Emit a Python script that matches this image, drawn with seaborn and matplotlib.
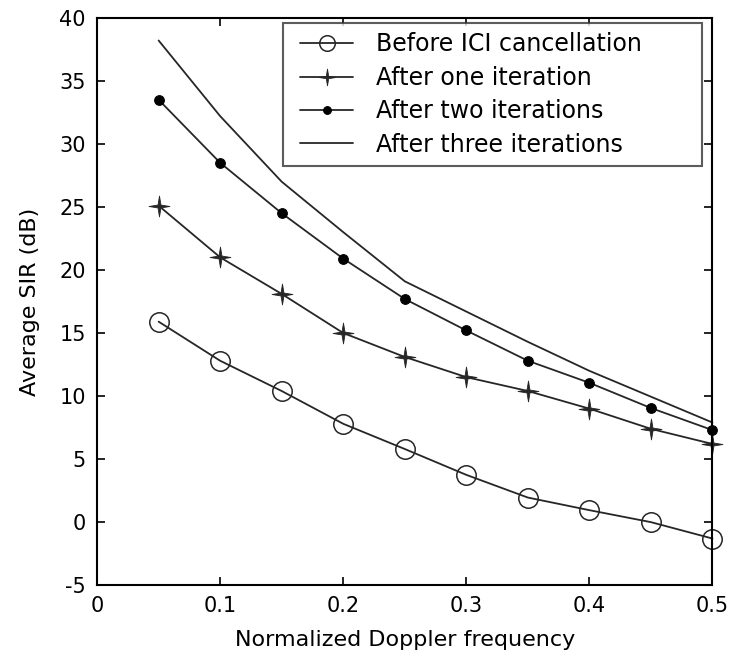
import matplotlib
matplotlib.use("Agg")
import matplotlib.pyplot as plt
from matplotlib.path import Path
from matplotlib.lines import Line2D
from matplotlib.legend_handler import HandlerLine2D
import seaborn as sns
import pandas as pd
import numpy as np

doppler = [0.05, 0.10, 0.15, 0.20, 0.25, 0.30, 0.35, 0.40, 0.45, 0.50]
before_ici = [15.9, 12.8, 10.4, 7.8, 5.8, 3.75, 1.95, 0.95, 0.0, -1.3]
after_one = [25.1, 21.0, 18.1, 15.0, 13.1, 11.5, 10.4, 9.0, 7.4, 6.2]
after_two = [33.5, 28.5, 24.5, 20.9, 17.7, 15.2, 12.8, 11.05, 9.05, 7.3]
after_three = [38.2, 32.2, 27.0, 23.0, 19.1, 16.7, 14.3, 12.0, 9.95, 7.9]

labels = ["Before ICI cancellation", "After one iteration",
          "After two iterations", "After three iterations"]
xticks = [0, 0.1, 0.2, 0.3, 0.4, 0.5]
xticklabels = ["0", "0.1", "0.2", "0.3", "0.4", "0.5"]
yticks = [-5, 0, 5, 10, 15, 20, 25, 30, 35, 40]

sns.set_theme(style="white")
plt.rcParams["font.family"] = ["DejaVu Sans"]
plt.rcParams["axes.unicode_minus"] = False
plt.rcParams["text.color"] = "black"
plt.rcParams["axes.labelcolor"] = "black"

# thin four-pointed star marker shape
ang = np.arange(8) * np.pi / 4 + np.pi / 2
rad = np.where(np.arange(8) % 2 == 0, 1.0, 0.2)
star_verts = np.column_stack([rad * np.cos(ang), rad * np.sin(ang)])
star_verts = np.vstack([star_verts, star_verts[:1]])
star = Path(star_verts, closed=True)

fig = plt.figure(figsize=(7.3, 6.59), dpi=100)
ax = fig.add_axes([0.133, 0.112, 0.843, 0.861])

df = pd.DataFrame({"x": doppler, "b": before_ici, "o": after_one,
                   "t": after_two, "h": after_three})

lc = "#262626"
common = dict(ax=ax, color=lc, lw=1.3, clip_on=False)
sns.lineplot(data=df, x="x", y="b", marker="o", markersize=14,
             markerfacecolor="none", markeredgecolor=lc, markeredgewidth=1.1,
             label=labels[0], **common)
sns.lineplot(data=df, x="x", y="o", marker=star, markersize=15,
             markerfacecolor=lc, markeredgecolor=lc, markeredgewidth=0.6,
             label=labels[1], **common)
sns.lineplot(data=df, x="x", y="t", marker="o", markersize=7,
             markerfacecolor="black", markeredgecolor="black",
             label=labels[2], **common)
sns.lineplot(data=df, x="x", y="h", label=labels[3], **common)

ax.set_xlim(0, 0.5)
ax.set_ylim(-5, 40)
ax.set_xticks(xticks)
ax.set_xticklabels(xticklabels)
ax.set_yticks(yticks)
ax.tick_params(direction="in", length=6, width=1.2, top=True, right=True,
               bottom=True, left=True, labelsize=15, pad=8, colors="black")
for s in ax.spines.values():
    s.set_color("black")
    s.set_linewidth(1.5)
ax.set_xlabel("Normalized Doppler frequency", fontsize=16, labelpad=10)
ax.set_ylabel("Average SIR (dB)", fontsize=16, labelpad=14)

leg = ax.legend(loc="upper left", bbox_to_anchor=(0.3015, 0.0, 0.682, 0.991),
                mode="expand", fontsize=17,
                frameon=True, fancybox=False, edgecolor="#333333",
                handlelength=2.6, borderpad=0.4, labelspacing=0.4,
                handletextpad=0.95, borderaxespad=0.0,
                handler_map={Line2D: HandlerLine2D(xpad=0.35)})
leg.get_frame().set_linewidth(1.5)
for h in leg.legend_handles:
    h.set_markersize(h.get_markersize() * 0.8)

fig.savefig("out.png", dpi=100)
